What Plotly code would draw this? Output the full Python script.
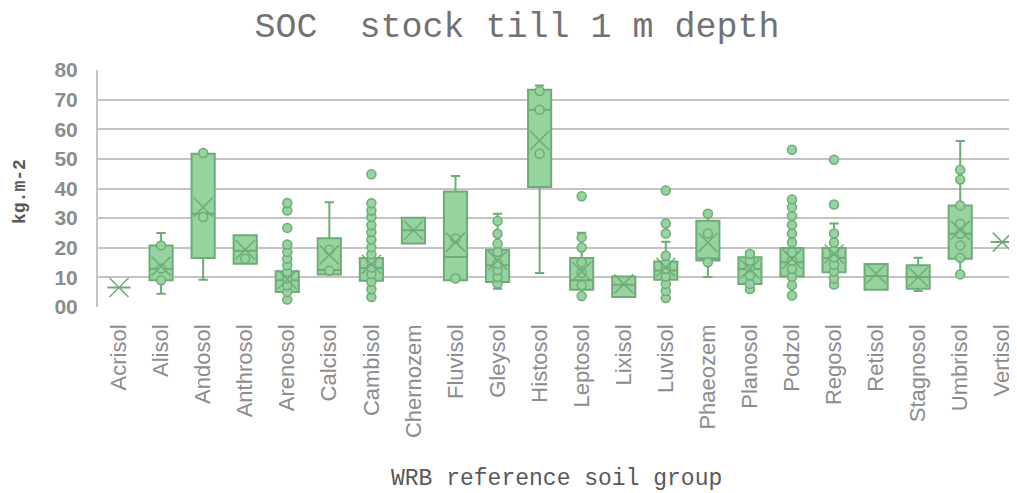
import plotly.graph_objects as go

categories = ["Acrisol", "Alisol", "Andosol", "Anthrosol", "Arenosol", "Calcisol",
              "Cambisol", "Chernozem", "Fluvisol", "Gleysol", "Histosol", "Leptosol",
              "Lixisol", "Luvisol", "Phaeozem", "Planosol", "Podzol", "Regosol",
              "Retisol", "Stagnosol", "Umbrisol", "Vertisol"]

lower_whisker = [6.6, 4.5, 9.2, 14.6, 2.5, 11.0, 3.4, 21.4, 9.0, 6.2, 11.5, 3.7,
                 3.4, 2.8, 10.1, 5.4, 3.9, 7.8, 5.8, 5.4, 11.0, 21.9]
q1 = [6.6, 9.0, 16.5, 14.6, 5.1, 11.0, 8.9, 21.4, 9.0, 8.4, 40.5, 5.8,
      3.4, 9.2, 15.7, 7.8, 10.3, 11.7, 5.8, 6.2, 16.3, 21.9]
median = [6.6, 12.9, 31.5, 19.0, 9.0, 12.5, 13.2, 25.9, 16.9, 14.1, 66.6, 9.0,
          7.5, 12.3, 16.4, 12.8, 15.1, 16.5, 10.5, 10.1, 24.7, 21.9]
q3 = [6.6, 20.8, 51.7, 24.2, 12.1, 23.2, 16.5, 30.1, 39.0, 19.3, 73.3, 16.5,
      10.3, 15.4, 29.1, 16.8, 19.9, 19.9, 14.5, 14.1, 34.3, 21.9]
upper_whisker = [6.6, 25.0, 51.7, 24.2, 21.1, 35.4, 27.6, 30.1, 44.2, 31.5, 74.8, 25.1,
                 10.3, 22.0, 31.5, 18.7, 34.0, 28.2, 14.5, 16.6, 56.0, 21.9]
mean = [6.6, 13.8, 33.7, 19.3, 9.3, 17.6, 14.4, 25.9, 21.9, 15.7, 56.2, 12.0,
        7.8, 13.4, 21.8, 12.8, 16.2, 17.9, 11.2, 10.1, 25.9, 21.9]

points = [
    [],
    [9.0, 13.0, 20.8],
    [30.4, 52.0],
    [16.3],
    [2.5, 5.1, 7.3, 9.6, 11.8, 14.1, 16.3, 18.6, 21.1, 26.7, 32.6, 35.1],
    [12.2, 19.3],
    [3.4, 6.0, 8.5, 11.1, 13.3, 15.6, 17.8, 20.2, 22.8, 25.3, 27.6, 30.4, 32.6, 35.0, 44.8],
    [],
    [9.6, 23.1],
    [7.9, 10.1, 12.4, 14.6, 18.6, 21.4, 24.7, 29.0],
    [51.7, 66.6, 72.9],
    [3.7, 7.3, 11.5, 15.1, 20.1, 23.5, 37.4],
    [],
    [3.0, 5.4, 7.8, 10.3, 12.9, 14.6, 17.3, 24.8, 28.2, 39.3],
    [15.1, 24.8, 31.5],
    [6.1, 7.8, 10.6, 13.4, 15.6, 17.9],
    [3.9, 7.3, 10.1, 12.8, 15.6, 18.4, 21.8, 24.8, 27.7, 30.7, 33.7, 36.3, 53.1],
    [7.6, 9.6, 12.0, 14.3, 16.8, 19.0, 21.8, 24.8, 34.6, 49.7],
    [],
    [],
    [11.0, 16.6, 20.8, 24.7, 28.1, 34.3, 43.0, 46.3],
    [],
]

FILL = "#96d39f"
EDGE = "#6dac77"
GRID = "#c4c4c4"

# The page body adds an 8px offset; the figure is sized to fit the window.
OFF = 8
W, H = 1017 - OFF, 493 - OFF

fig = go.Figure()

fig.add_trace(go.Box(
    x=categories,
    q1=q1, median=median, q3=q3,
    lowerfence=lower_whisker, upperfence=upper_whisker,
    fillcolor=FILL,
    line=dict(color=EDGE, width=2),
    width=0.55,
    whiskerwidth=0.4,
    boxpoints=False,
    showlegend=False,
))

px_x = [c for c, pts in zip(categories, points) for _ in pts]
px_y = [v for pts in points for v in pts]
fig.add_trace(go.Scatter(
    x=px_x, y=px_y, mode="markers",
    marker=dict(symbol="circle", size=9, color=FILL, line=dict(color=EDGE, width=1.5)),
    showlegend=False,
))

fig.add_trace(go.Scatter(
    x=categories, y=mean, mode="markers",
    marker=dict(symbol="x-thin", size=19, line=dict(color=EDGE, width=1.5)),
    showlegend=False,
))

fig.update_layout(
    width=W, height=H, autosize=False,
    margin=dict(l=98 - OFF, r=0, t=70 - OFF, b=493 - 307),
    paper_bgcolor="white", plot_bgcolor="white",
    title=dict(text="SOC  stock till 1 m depth", x=(517 - OFF) / W, xref="container",
               y=1 - (25 - OFF) / H, yref="container", xanchor="center", yanchor="middle",
               font=dict(family="Liberation Mono", size=35, color="#727272")),
    xaxis=dict(type="category", range=[-0.5, 21.35], showgrid=False, automargin=False,
               tickangle=-90, ticklabelstandoff=12,
               tickfont=dict(family="Liberation Sans", size=22, color="#8c8c8c"),
               showline=False, ticks=""),
    yaxis=dict(range=[0, 80], dtick=10, tickformat="02d", showgrid=True, automargin=False,
               gridcolor=GRID, gridwidth=2, zeroline=False,
               showline=True, linecolor=GRID, linewidth=2, ticks="",
               ticklabelstandoff=14,
               tickfont=dict(family="Liberation Sans", size=21, color="#8c8c8c",
                             weight="bold")),
    annotations=[
        dict(text="<b>kg.m-2</b>", textangle=-90, xref="paper", yref="paper",
             x=(20 - 98) / 919, y=(307 - 192) / 237, xanchor="center", yanchor="middle",
             showarrow=False, font=dict(family="Liberation Mono", size=18, color="#595959")),
        dict(text="WRB reference soil group", xref="paper", yref="paper",
             x=(556 - 98) / 919, y=(307 - 479) / 237, xanchor="center", yanchor="middle",
             showarrow=False, font=dict(family="Liberation Mono", size=23, color="#595959")),
    ],
)

fig.write_html("out.html")
